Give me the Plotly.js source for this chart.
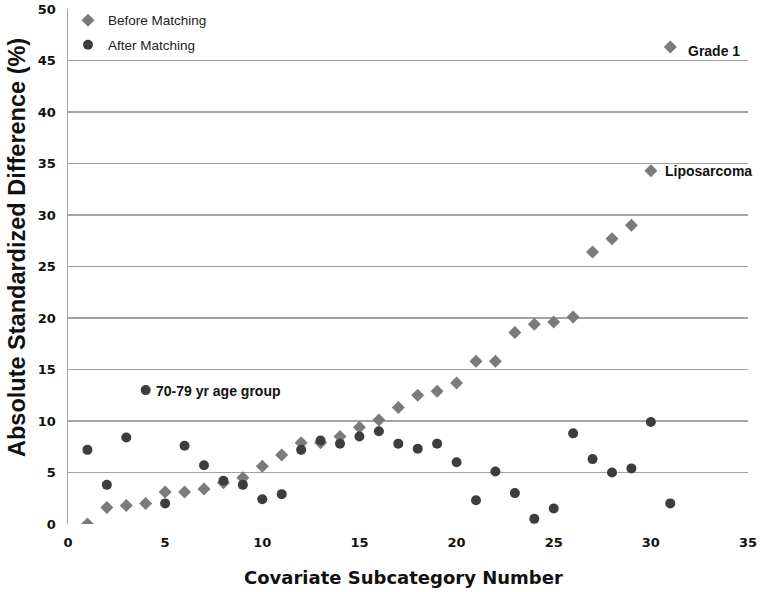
<!DOCTYPE html>
<html>
<head>
<meta charset="utf-8">
<script src="https://cdn.plot.ly/plotly-3.0.1.min.js"></script>
<style>html,body{margin:0;padding:0;background:#fff;}#chart{width:760px;height:592px;}</style>
</head>
<body>
<div id="chart"></div>
<script>
// Covariate subcategory numbers
const subcategory = [1,2,3,4,5,6,7,8,9,10,11,12,13,14,15,16,17,18,19,20,21,22,23,24,25,26,27,28,29,30,31];
// Absolute standardized difference (%) before matching
const beforeMatching = [0.0,1.6,1.8,2.0,3.1,3.1,3.4,4.0,4.5,5.6,6.7,7.9,7.9,8.5,9.4,10.1,11.3,12.5,12.9,13.7,15.8,15.8,18.6,19.4,19.6,20.1,26.4,27.7,29.0,34.3,46.3];
// Absolute standardized difference (%) after matching
const afterMatching = [7.2,3.8,8.4,13.0,2.0,7.6,5.7,4.2,3.8,2.4,2.9,7.2,8.1,7.8,8.5,9.0,7.8,7.3,7.8,6.0,2.3,5.1,3.0,0.5,1.5,8.8,6.3,5.0,5.4,9.9,2.0];
// Labelled points
const labels = [
  {series: 'after', x: 4, text: '70-79 yr age group', xshift: 8, yshift: -1},
  {series: 'before', x: 30, text: 'Liposarcoma', xshift: 12, yshift: 0},
  {series: 'before', x: 31, text: 'Grade 1', xshift: 16, yshift: -4}
];
const threshold = 10;
const xTitle = 'Covariate Subcategory Number';
const yTitle = 'Absolute Standardized Difference (%)';

const traces = [
  {x: subcategory, y: beforeMatching, name: 'Before Matching', type: 'scatter', mode: 'markers',
   legendgroup: 'b',
   marker: {symbol: 'diamond', size: 10, color: '#7b7b7b'}},
  {x: subcategory, y: afterMatching, name: 'After Matching', type: 'scatter', mode: 'markers',
   legendgroup: 'a',
   marker: {symbol: 'circle', size: 10, color: '#3d3d3d'}}
];

const annotations = labels.map(l => ({
  x: l.x,
  y: (l.series === 'before' ? beforeMatching : afterMatching)[subcategory.indexOf(l.x)],
  xref: 'x', yref: 'y', text: l.text, showarrow: false,
  xanchor: 'left', yanchor: 'middle', xshift: l.xshift, yshift: l.yshift,
  font: {family: 'Liberation Sans, Arial, sans-serif', size: 14, color: '#111', weight: 'bold'}
}));
annotations.push({
  text: xTitle, xref: 'paper', yref: 'paper', x: 0.494, y: -0.103,
  xanchor: 'center', yanchor: 'middle', showarrow: false,
  font: {family: 'DejaVu Sans, sans-serif', size: 18, color: '#111', weight: 'bold'}
});
annotations.push({
  text: yTitle, xref: 'paper', yref: 'paper', x: -0.075, y: 0.536, textangle: -90,
  xanchor: 'center', yanchor: 'middle', showarrow: false,
  font: {family: 'Liberation Sans, Arial, sans-serif', size: 23.5, color: '#111', weight: 'bold'}
});

const layout = {
  width: 760, height: 592,
  margin: {l: 68, r: 12, t: 9, b: 68, autoexpand: false},
  paper_bgcolor: '#fff', plot_bgcolor: '#fff',
  showlegend: true,
  legend: {x: 0, y: 1.008, xanchor: 'left', yanchor: 'top', bgcolor: 'rgba(0,0,0,0)',
           font: {family: 'Liberation Sans, Arial, sans-serif', size: 13.5, color: '#222'},
           tracegroupgap: 4, itemwidth: 30},
  xaxis: {range: [0, 35], dtick: 5, tick0: 0, showgrid: false, zeroline: false,
          showline: false, ticks: '', ticklabelstandoff: 9,
          tickfont: {family: 'DejaVu Sans, sans-serif', size: 13, color: '#111', weight: 'bold'}},
  yaxis: {range: [0, 50], dtick: 5, tick0: 0, showgrid: true, gridcolor: '#a3a3a3', gridwidth: 1.5,
          zeroline: false, showline: true, linecolor: '#a3a3a3', linewidth: 1.5, ticks: '',
          ticklabelstandoff: 8,
          tickfont: {family: 'DejaVu Sans, sans-serif', size: 13, color: '#111', weight: 'bold'}},
  shapes: [
    {type: 'line', xref: 'paper', yref: 'y', x0: 0, x1: 1, y0: threshold, y1: threshold,
     line: {color: '#3a3a3a', width: 2}, layer: 'below'}
  ],
  annotations: annotations
};

Plotly.newPlot('chart', traces, layout, {displayModeBar: false, staticPlot: true});
</script>
</body>
</html>
